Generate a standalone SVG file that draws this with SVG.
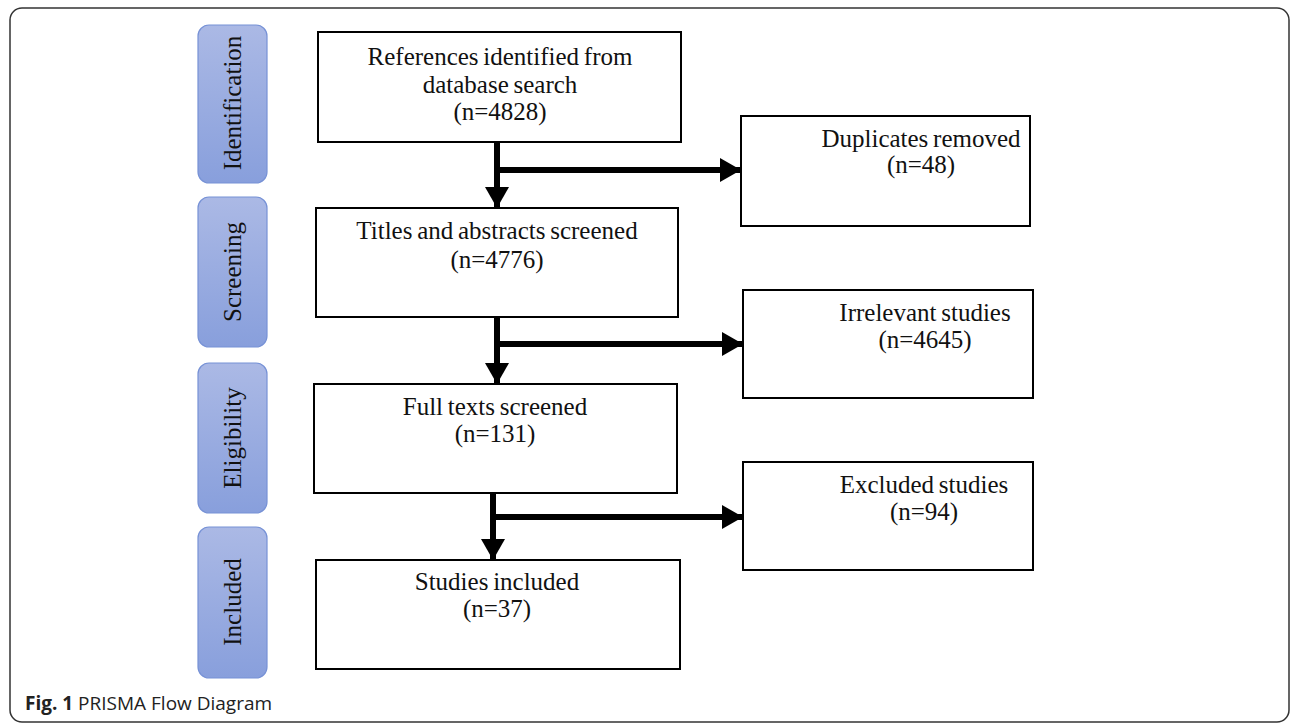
<svg xmlns="http://www.w3.org/2000/svg" width="1290" height="724" viewBox="0 0 1290 724">
<defs>
<linearGradient id="blue" x1="0" y1="0" x2="0" y2="1">
<stop offset="0" stop-color="#abb9e5"/>
<stop offset="1" stop-color="#889fdc"/>
</linearGradient>
<marker id="ah" markerUnits="userSpaceOnUse" markerWidth="22" markerHeight="24" refX="20" refY="12" orient="auto">
<path d="M0,0 L21,12 L0,24 Z" fill="#000"/>
</marker>
</defs>
<style>
.frame{fill:#fff;stroke:#333;stroke-width:1.5}
.stage{fill:url(#blue);stroke:#7792d6;stroke-width:1.2}
.box{fill:#fff;stroke:#000;stroke-width:2}
.t{font-family:"Liberation Serif","Times New Roman",serif;font-size:25px;fill:#111;text-anchor:middle;word-spacing:-1.5px}
.st{font-family:"Liberation Serif","Times New Roman",serif;font-size:25px;fill:#111;text-anchor:middle}
.c{stroke:#000;stroke-width:6;fill:none}
.cap{font-family:"Open Sans","Noto Sans",sans-serif;font-size:19px;fill:#222}
</style>
<rect class="frame" x="10" y="8" width="1279" height="714" rx="12"/>

<g id="stage-identification">
<rect class="stage" x="198" y="25" width="69" height="158" rx="11"/>
<text class="st" transform="translate(241,103) rotate(-90)">Identification</text>
</g>
<g id="stage-screening">
<rect class="stage" x="198" y="197" width="69" height="150" rx="11"/>
<text class="st" transform="translate(241,272) rotate(-90)">Screening</text>
</g>
<g id="stage-eligibility">
<rect class="stage" x="198" y="363" width="69" height="150" rx="11"/>
<text class="st" transform="translate(241,438) rotate(-90)">Eligibility</text>
</g>
<g id="stage-included">
<rect class="stage" x="198" y="527" width="69" height="151" rx="11"/>
<text class="st" transform="translate(241,602) rotate(-90)">Included</text>
</g>

<g id="box-references">
<rect class="box" x="318" y="32" width="363" height="110"/>
<text class="t" x="500" y="65">References identified from</text>
<text class="t" x="500" y="93">database search</text>
<text class="t" x="500" y="120">(n=4828)</text>
</g>
<g id="box-titles">
<rect class="box" x="316" y="208" width="362" height="109"/>
<text class="t" x="497" y="239">Titles and abstracts screened</text>
<text class="t" x="497" y="268">(n=4776)</text>
</g>
<g id="box-fulltexts">
<rect class="box" x="314" y="384" width="363" height="109"/>
<text class="t" x="495" y="415">Full texts screened</text>
<text class="t" x="495" y="442">(n=131)</text>
</g>
<g id="box-included">
<rect class="box" x="316" y="560" width="364" height="109"/>
<text class="t" x="497" y="590">Studies included</text>
<text class="t" x="497" y="617">(n=37)</text>
</g>
<g id="box-duplicates">
<rect class="box" x="741" y="116" width="289" height="110"/>
<text class="t" x="921" y="147">Duplicates removed</text>
<text class="t" x="921" y="173">(n=48)</text>
</g>
<g id="box-irrelevant">
<rect class="box" x="743" y="290" width="290" height="108"/>
<text class="t" x="925" y="321">Irrelevant studies</text>
<text class="t" x="925" y="348">(n=4645)</text>
</g>
<g id="box-excluded">
<rect class="box" x="743" y="462" width="290" height="108"/>
<text class="t" x="924" y="493">Excluded studies</text>
<text class="t" x="924" y="520">(n=94)</text>
</g>

<g id="connectors">
<path class="c" d="M497,142 V207" marker-end="url(#ah)"/>
<path class="c" d="M497,170 H740" marker-end="url(#ah)"/>
<path class="c" d="M497,317 V383" marker-end="url(#ah)"/>
<path class="c" d="M497,344 H742" marker-end="url(#ah)"/>
<path class="c" d="M493,493 V559" marker-end="url(#ah)"/>
<path class="c" d="M493,517 H742" marker-end="url(#ah)"/>
</g>

<text class="cap" x="25" y="710"><tspan font-weight="bold">Fig. 1</tspan> PRISMA Flow Diagram</text>
</svg>
